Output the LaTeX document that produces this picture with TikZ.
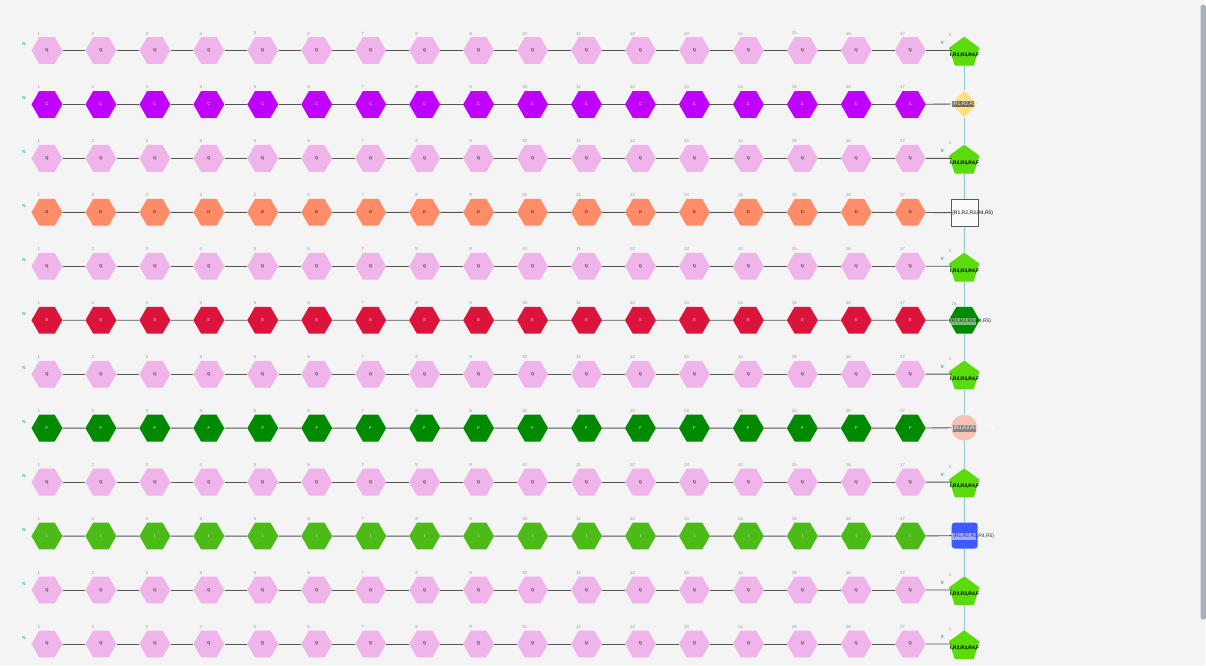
\documentclass[tikz,border=0pt]{standalone}
\usepackage{fontspec}
\setmainfont{Liberation Sans}
\usepackage{tikz}
\usetikzlibrary{shapes.geometric,calc,positioning}
\definecolor{bgcol}{HTML}{F4F4F4}
\definecolor{barcol}{HTML}{A9B0BA}
\definecolor{linecol}{HTML}{555555}
\definecolor{vcol}{HTML}{8EC8D2}
\definecolor{ncol}{HTML}{3AAFC0}
\definecolor{numcol}{HTML}{9A9A9A}
\definecolor{colQ}{HTML}{EFB5EB}
\definecolor{colC}{HTML}{BF00FF}
\definecolor{colD}{HTML}{FF8C69}
\definecolor{colE}{HTML}{DC143C}
\definecolor{colF}{HTML}{008A00}
\definecolor{colI}{HTML}{4CBB17}
\definecolor{pentcol}{HTML}{5ADB0B}
\definecolor{diamcol}{HTML}{FFE082}
\definecolor{circcol}{HTML}{F4C3B4}
\definecolor{bluecol}{HTML}{3D5AFE}

\begin{document}
\begin{tikzpicture}[x=1pt,y=-1pt,
    hexnode/.style={regular polygon, regular polygon sides=6, minimum size=31pt, inner sep=0pt, font=\fontsize{4}{4}\selectfont},
    pentnode/.style={regular polygon, regular polygon sides=5, minimum size=32pt, inner sep=0pt, fill=pentcol},
    numlab/.style={text=numcol, font=\fontsize{4.5}{5}\selectfont, inner sep=0pt},
    nlab/.style={text=ncol, font=\fontsize{4.5}{5}\selectfont\bfseries, inner sep=0pt},
    endtxt/.style={font=\fontsize{5}{5}\selectfont, inner sep=0pt},
    edge/.style={draw=linecol, line width=0.9pt},
    vline/.style={draw=vcol, line width=1.2pt}]
    \fill[bgcol] (0,0) rectangle (1206,666);
    \fill[barcol, rounded corners=2pt] (1201.5,5) rectangle (1207,620);
    % rows of hexagons
    \foreach \r/\lt/\fc/\tc in {1/Q/colQ/black, 2/C/colC/white, 3/Q/colQ/black, 4/D/colD/black,
        5/Q/colQ/black, 6/E/colE/white, 7/Q/colQ/black, 8/F/colF/white,
        9/Q/colQ/black, 10/I/colI/white, 11/Q/colQ/black, 12/Q/colQ/black}{
        \foreach \c in {1,...,17}{
            \node[hexnode, fill=\fc, text=\tc] (n\r-\c) at ({47+54*(\c-1)}, {50.5+54*(\r-1)}) {\lt};
            \node[numlab] at ($(n\r-\c)+(-8,-17)$) {\c};
        }
        \node[nlab] (nt\r) at (24, {44+54*(\r-1)}) {N};
    }
    % end nodes
    \foreach \r in {1,3,5,7,9,11,12}{
        \node[pentnode] (e\r) at (965, {52.8+54*(\r-1)}) {};
    }
    \node[diamond, fill=diamcol, minimum width=26pt, minimum height=27pt, inner sep=0pt] (e2) at (965,104) {};
    \node[rectangle, draw=gray!70!black, fill=white!97!gray, line width=0.8pt, minimum size=27pt, inner sep=0pt] (e4) at (965.5,213) {};
    \node[hexnode, fill=colF] (e6) at (965,320.5) {};
    \node[circle, fill=circcol, minimum size=26pt, inner sep=0pt] (e8) at (965,428) {};
    \node[rectangle, rounded corners=3pt, fill=bluecol, minimum size=26pt, inner sep=0pt] (e10) at (965.5,536) {};
    % connectors
    \foreach \r in {1,...,12}{
        \foreach \c [count=\d from 2] in {1,...,16}{
            \draw[edge] (n\r-\c) -- (n\r-\d);
        }
    }
    \foreach \r in {2,4,6,8,10}{
        \draw[edge] (n\r-17) -- (e\r);
    }
    \foreach \r in {1,3,5,7,9,11,12}{
        \draw[edge] (n\r-17) -- ($(n\r-17 -| e\r.west)+(1.5,0)$);
    }
    \foreach \r [count=\s from 2] in {1,...,11}{
        \draw[vline] (e\r) -- (e\s);
    }
    % end labels
    \foreach \r in {1,3,5,7,9,11,12}{
        \node[endtxt, font=\fontsize{5}{5}\selectfont\bfseries] (l\r) at (965.5, {55+54*(\r-1)}) {I,R2,R3,R4,F};
        \node[numlab] at (951, {35+54*(\r-1)}) {1};
        \node[nlab] at (943.5, {43+54*(\r-1)}) {5'};
    }
    \fill[gray!60!black, opacity=0.8] (953,101) rectangle (975,107.5);
    \node[endtxt, text=white] (l2) at (973.5,104.5) {(R1,R2,R3,R4,R5)};
    \node[endtxt] (l4) at (973.5,213) {(R1,R2,R3,R4,R5)};
    \fill[white, opacity=0.45] (951,318) rectangle (977,325);
    \node[numlab] at (955,304) {18};
    \node[endtxt, text=black!85] (l6) at (971.5,321.5) {(R1,R2,R3,R4,R5)};
    \fill[black!55, opacity=0.8] (954,425) rectangle (977,432);
    \node[endtxt, text=white] (l8) at (975,428.5) {(R1,R2,R3,R4,R5)};
    \fill[white, opacity=0.5] (953,533) rectangle (977,540);
    \node[endtxt, text=black!80] (l10) at (974.5,536.5) {(R1,R2,R3,R4,R5)};
\end{tikzpicture}
\end{document}
